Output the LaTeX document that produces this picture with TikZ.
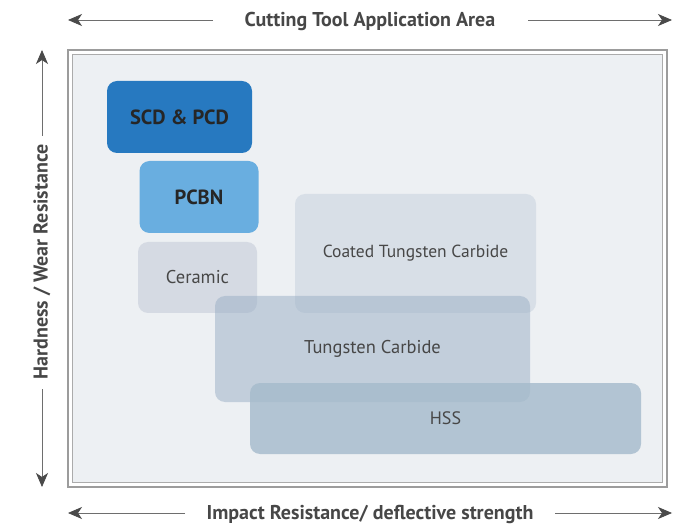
\documentclass[tikz,border=0pt]{standalone}
\usepackage{fontspec}
\setmainfont{PT Sans}
\usetikzlibrary{arrows.meta}

\definecolor{framegray}{HTML}{9C9C9C}
\definecolor{panelfill}{HTML}{EDF0F3}
\definecolor{linegray}{HTML}{6E6E6E}
\definecolor{tipgray}{HTML}{4A4A4A}
\definecolor{labelgray}{HTML}{474747}
\definecolor{scdblue}{HTML}{2779C0}
\definecolor{pcbnblue}{HTML}{69AEE0}
\definecolor{ceramicfill}{HTML}{D5DAE3}
\definecolor{coatedfill}{HTML}{D8DFE7}
\definecolor{carbidefill}{HTML}{99AEC5}
\definecolor{hssfill}{HTML}{A4BACB}

\begin{document}
\begin{tikzpicture}[x=1pt,y=-1pt,
  axislabel/.style={text=labelgray, font=\fontsize{20}{24}\selectfont\bfseries, inner sep=0pt},
  axisline/.style={draw=linegray, line width=0.8pt, -{Stealth[length=14pt,width=12pt,inset=4pt,color=tipgray]}},
  tool/.style={rounded corners=10pt, inner sep=0pt, text=labelgray, text opacity=1,
    font=\fontsize{18.5}{22}\selectfont},
  hard/.style={tool, text=black!85, font=\fontsize{20.5}{24}\selectfont\bfseries}
]

\useasboundingbox (0,0) rectangle (693,526);

% frame
\draw[framegray, line width=2pt, fill=white] (68,50) rectangle (667,487);
\draw[framegray!85, line width=1pt, fill=panelfill] (72.5,54.5) rectangle (662.5,482.5);

% axes
\node[axislabel] (area) at (370,21) {Cutting Tool Application Area};
\coordinate (a1) at (213,20);
\coordinate (a2) at (528,20);
\coordinate (areaL) at (68,20);
\coordinate (areaR) at (672,20);
\draw[axisline] (a1) -- (areaL);
\draw[axisline] (a2) -- (areaR);

\node[axislabel] (impact) at (370,514) {Impact Resistance/ deflective strength};
\coordinate (i1) at (185,513);
\coordinate (i2) at (555,513);
\coordinate (impactL) at (68,513);
\coordinate (impactR) at (672,513);
\draw[axisline] (i1) -- (impactL);
\draw[axisline] (i2) -- (impactR);

\node[axislabel, rotate=90] (hard) at (42,262) {Hardness / Wear Resistance};
\coordinate (h1) at (42,136);
\coordinate (h2) at (42,389);
\coordinate (hardT) at (42,50);
\coordinate (hardB) at (42,487);
\draw[axisline] (h1) -- (hardT);
\draw[axisline] (h2) -- (hardB);

% tool materials
\node[hard, fill=scdblue, minimum width=145pt, minimum height=72pt] (scd) at (179.5,117) {SCD \& PCD};
\node[hard, fill=pcbnblue, minimum width=119pt, minimum height=72pt] (pcbn) at (199,197) {PCBN};
\node[tool, fill=ceramicfill, minimum width=119pt, minimum height=71pt] (ceramic) at (197.5,277.5) {Ceramic};
\node[tool, fill=coatedfill, minimum width=241pt, minimum height=119pt, font=\fontsize{17.5}{21}\selectfont] (coated) at (415.5,253.5) {Coated Tungsten Carbide};
\node[tool, fill=carbidefill, fill opacity=0.5, minimum width=315pt, minimum height=106pt] (carbide) at (372.5,349) {Tungsten Carbide};
\node[tool, fill=hssfill, fill opacity=0.8, minimum width=391pt, minimum height=71pt, font=\fontsize{18}{21}\selectfont] (hss) at (445.5,418.5) {HSS};

\end{tikzpicture}
\end{document}
